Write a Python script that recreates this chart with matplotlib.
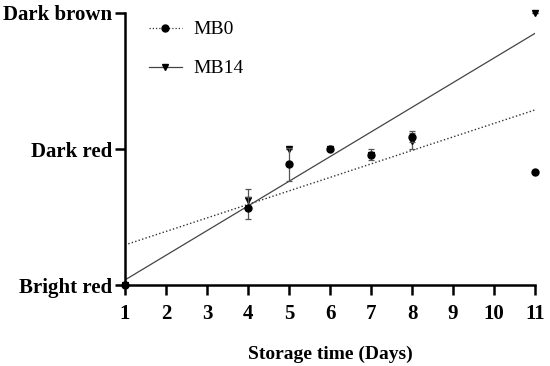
import numpy as np
import matplotlib
matplotlib.use("Agg")
import matplotlib.pyplot as plt
from matplotlib.lines import Line2D

# data
days = [1, 4, 5, 6, 7, 8, 11]
mb0 = [0.0, 0.57, 0.89, 1.0, 0.96, 1.09, 0.83]
mb0_err = [0.0, 0.08, 0.12, 0.0, 0.04, 0.04, 0.0]
mb14 = [0.0, 0.63, 1.0, 1.0, 0.96, 1.06, 2.0]
mb14_err = [0.0, 0.08, 0.0, 0.0, 0.0, 0.06, 0.0]

# linear trend lines (intercept, slope) as drawn in the chart
mb0_fit = (0.198, 0.0991)
mb14_fit = (-0.141, 0.181)

color_levels = ["Bright red", "Dark red", "Dark brown"]
day_ticks = list(range(1, 12))

plt.rcParams["font.family"] = ["Liberation Serif", "DejaVu Serif"]

fig = plt.figure(figsize=(5.5, 3.66), dpi=100)
ax = fig.add_axes([0.227, 0.22, 0.746, 0.745])

xs = np.array([1, 11])
ax.plot(xs, mb0_fit[0] + mb0_fit[1] * xs, color="#333333", lw=1.0,
        linestyle=(0, (1, 1.6)), zorder=2)
ax.plot(xs, mb14_fit[0] + mb14_fit[1] * xs, color="#444444", lw=0.9,
        linestyle="-", zorder=2)

ax.errorbar(days, mb0, yerr=mb0_err, fmt="o", color="black", ms=5,
            ecolor="#555555", elinewidth=0.9, capsize=2.5, capthick=0.9,
            clip_on=False, zorder=4)
ax.errorbar(days, mb14, yerr=mb14_err, fmt="v", color="black", ms=5,
            ecolor="#555555", elinewidth=0.9, capsize=2.5, capthick=0.9,
            clip_on=False, zorder=3)

ax.set_xlim(1, 11)
ax.set_ylim(0, 2)
ax.set_xticks(day_ticks)
ax.set_yticks([0, 1, 2])
ax.set_yticklabels(color_levels)

for s in ["top", "right"]:
    ax.spines[s].set_visible(False)
for s in ["left", "bottom"]:
    ax.spines[s].set_linewidth(1.8)
ax.tick_params(width=1.8, length=7, direction="out", labelsize=15)
ax.tick_params(axis="y", pad=2)
ax.tick_params(axis="x", pad=6)
for lab in ax.get_xticklabels() + ax.get_yticklabels():
    lab.set_fontweight("bold")

ax.set_xlabel("Storage time (Days)", fontsize=14, fontweight="bold", labelpad=16)

handles = [
    Line2D([], [], color="#333333", lw=0.9, linestyle=(0, (1, 1.6)),
           marker="o", ms=5, markerfacecolor="black", markeredgecolor="black"),
    Line2D([], [], color="#444444", lw=0.9, linestyle="-",
           marker="v", ms=5, markerfacecolor="black", markeredgecolor="black"),
]
ax.legend(handles, ["MB0", "MB14"], loc="upper left", bbox_to_anchor=(0.015, 1.035),
          frameon=False, fontsize=14, handlelength=1.7, labelspacing=1.1,
          handletextpad=0.6)

fig.savefig("out.png", dpi=100)
